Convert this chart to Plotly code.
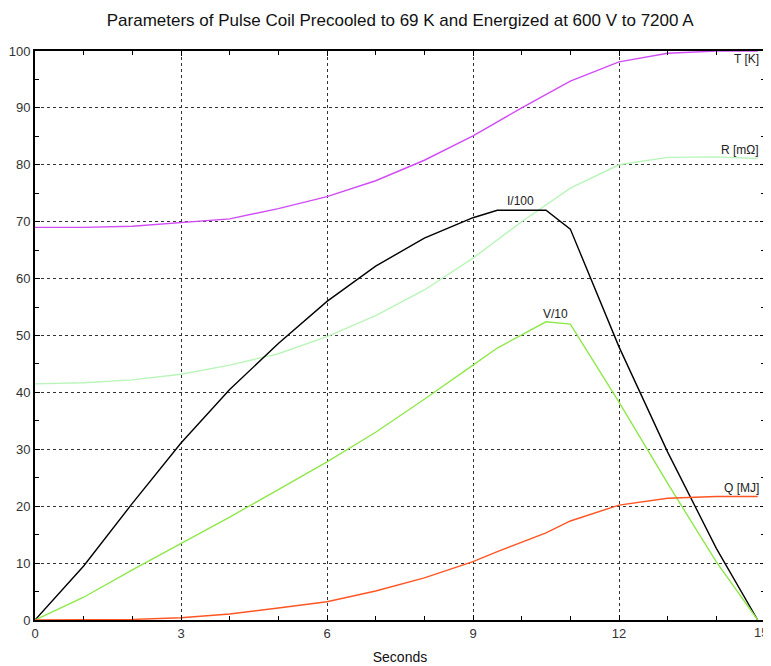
import plotly.graph_objects as go

# Time axis (seconds)
t_T = [0, 1, 2, 3, 4, 5, 6, 7, 8, 9, 10, 11, 12, 13, 14, 14.85]
T_K = [69, 69, 69.2, 69.8, 70.5, 72.3, 74.4, 77.2, 80.8, 85.1, 90.0, 94.7, 98.1, 99.6, 100, 100]

t_R = [0, 1, 2, 3, 4, 5, 6, 7, 8, 9, 10, 11, 12, 13, 14, 14.85]
R_mohm = [41.5, 41.7, 42.2, 43.2, 44.8, 46.8, 49.8, 53.5, 58.0, 63.6, 70.0, 75.9, 80.0, 81.3, 81.4, 81.1]

t_I = [0, 1, 2, 3, 4, 5, 6, 7, 8, 9, 9.5, 10.5, 11, 12, 13, 14, 14.85]
I_100 = [0, 9.5, 20.5, 31.1, 40.5, 48.6, 56.0, 62.2, 67.1, 70.7, 72.0, 72.0, 68.7, 48.0, 29.5, 12.6, 0]

t_V = [0, 1, 2, 3, 4, 5, 6, 7, 8, 9, 9.5, 10.5, 11, 12, 13, 14, 14.85]
V_10 = [0, 4.0, 8.8, 13.4, 18.1, 22.9, 27.8, 33.0, 38.8, 44.8, 47.8, 52.4, 52.0, 38.3, 24.0, 10.2, 0]

t_Q = [0, 1, 2, 3, 4, 5, 6, 7, 8, 9, 9.5, 10.5, 11, 12, 13, 14, 14.85]
Q_MJ = [0, 0, 0.1, 0.4, 1.05, 2.1, 3.2, 5.1, 7.4, 10.25, 12.0, 15.3, 17.4, 20.2, 21.4, 21.7, 21.7]

x_tickvals = [0, 3, 6, 9, 12, 15]
x_ticktext = ["0", "3", "6", "9", "12", "15"]

series = [
    ("T [K]", t_T, T_K, "#d24cf5"),
    ("R [mΩ]", t_R, R_mohm, "#b9f5b9"),
    ("I/100", t_I, I_100, "#000000"),
    ("V/10", t_V, V_10, "#8ee84a"),
    ("Q [MJ]", t_Q, Q_MJ, "#ff5522"),
]

FONT = "Liberation Sans, Arial, sans-serif"

fig = go.Figure()
for name, xs, ys, col in series:
    fig.add_trace(go.Scatter(x=xs, y=ys, mode="lines", name=name,
                             line=dict(color=col, width=1.4), showlegend=False))

label_font = dict(family=FONT, size=12, color="#222")
annots = [
    ("T [K]", 14.92, 98.6, "right"),
    ("R [mΩ]", 14.92, 82.6, "right"),
    ("Q [MJ]", 14.92, 23.2, "right"),
    ("I/100", 9.97, 73.6, "center"),
    ("V/10", 10.7, 53.7, "center"),
]
for txt, ax, ay, anc in annots:
    fig.add_annotation(x=ax, y=ay, text=txt, showarrow=False, xanchor=anc,
                       yanchor="middle", font=label_font)

tick_font = dict(family=FONT, size=13, color="#333")

# last x tick label sits at the window edge; draw it as text nudged inside
fig.add_annotation(x=x_tickvals[-1], y=0, xref="x", yref="paper", text=x_ticktext[-1],
                   showarrow=False, xanchor="right", yanchor="middle",
                   xshift=5, yshift=-12, font=tick_font)

axis_common = dict(
    showline=True, linecolor="black", linewidth=2, mirror="ticks",
    ticks="inside", ticklen=5, tickcolor="black",
    showgrid=True, gridcolor="#333", gridwidth=1, griddash="3px,3px",
    zeroline=False, automargin=False,
    tickfont=tick_font,
)

fig.update_xaxes(range=[0, 15], tickmode="array", tickvals=x_tickvals,
                 ticktext=x_ticktext[:-1] + [""],
                 minor=dict(dtick=1, tick0=0, ticks="inside", ticklen=4, tickcolor="black", showgrid=False),
                 title=dict(text="Seconds", standoff=13,
                            font=dict(family=FONT, size=14, color="#111")),
                 **axis_common)
fig.update_yaxes(range=[0, 100], dtick=10, tick0=0,
                 minor=dict(dtick=5, ticks="inside", ticklen=4, tickcolor="black", showgrid=False),
                 **axis_common)

# the page body adds an 8px offset, so the figure is sized to the remaining window
fig.update_layout(
    width=763, height=658,
    margin=dict(l=27, r=6, t=43, b=46),
    paper_bgcolor="white", plot_bgcolor="white",
    title=dict(text="Parameters of Pulse Coil Precooled to 69 K and Energized at 600 V to 7200 A",
               x=0.514, xanchor="center", y=0.9818, yanchor="middle",
               font=dict(family=FONT, size=17, color="#111")),
)

fig.write_html("out.html")
